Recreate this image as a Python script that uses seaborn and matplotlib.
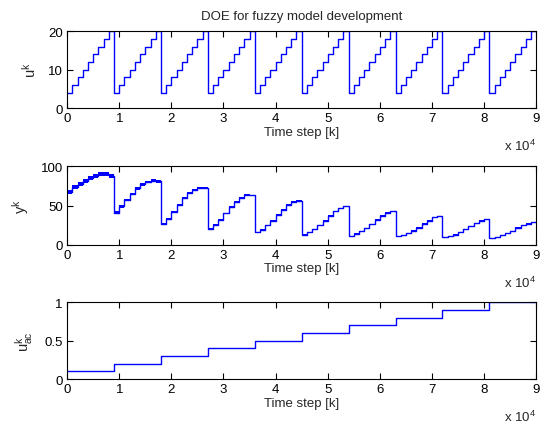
import numpy as np
import pandas as pd
import matplotlib
matplotlib.use("Agg")
import matplotlib.pyplot as plt
import seaborn as sns

# ---- data ----
seg_len = 1000                      # steps per input level
n_periods = 10
u_levels = [4, 6, 8, 10, 12, 14, 16, 18, 20]          # one DOE period
uac_levels = [0.1, 0.2, 0.3, 0.4, 0.5, 0.6, 0.7, 0.8, 0.9, 1.0]

# plant output, one value per 1000-step segment
y_p1 = [67, 74, 78, 82, 85, 88, 90, 90, 88]
y_p2 = [41, 49, 57, 65, 72, 77, 80, 82, 81]
y_p3 = [26, 33, 42, 51, 60, 66, 70, 73, 72]
y_p4 = [20, 25, 32, 40, 48, 55, 60, 64, 63]
y_p5 = [16, 19, 25, 31, 38, 45, 51, 55, 56]
y_p6 = [13, 16, 20, 25, 31, 37, 43, 47, 49]
y_p7 = [11, 14, 17, 21, 26, 32, 37, 41, 43]
y_p8 = [11, 12, 15, 18, 22, 27, 31, 35, 37]
y_p9 = [10, 11, 13, 16, 20, 24, 28, 31, 33]
y_p10 = [9, 10, 12, 15, 18, 22, 25, 27, 29]
# half thickness of the ripple band in each period
y_band = [2.5, 1.6, 1.2, 0.9, 0.7, 0.5, 0.4, 0.3, 0.3, 0.2]

xtick_labels = ['0', '1', '2', '3', '4', '5', '6', '7', '8', '9']

# ---- build step series ----
u_vals = u_levels * n_periods
y_vals = y_p1 + y_p2 + y_p3 + y_p4 + y_p5 + y_p6 + y_p7 + y_p8 + y_p9 + y_p10
band_vals = [b for b in y_band for _ in u_levels]
uac_vals = [v for v in uac_levels for _ in u_levels]

k = np.arange(len(u_vals) + 1) * seg_len
df = pd.DataFrame({
    'k': k,
    'u': u_vals + [u_vals[-1]],
    'y': y_vals + [y_vals[-1]],
    'band': band_vals + [band_vals[-1]],
    'uac': uac_vals + [uac_vals[-1]],
})

sns.set_style('ticks')
plt.rcParams['font.family'] = ['Liberation Sans', 'DejaVu Sans']
plt.rcParams['font.size'] = 9.5
plt.rcParams['mathtext.fontset'] = 'custom'
plt.rcParams['mathtext.rm'] = 'Liberation Sans'
plt.rcParams['mathtext.it'] = 'Liberation Sans'

fig = plt.figure(figsize=(5.5, 4.35), dpi=100)
left, width = 0.122, 0.853
ax1 = fig.add_axes([left, 0.749, width, 0.177])
ax2 = fig.add_axes([left, 0.435, width, 0.180])
ax3 = fig.add_axes([left, 0.126, width, 0.177])

blue = (0, 0, 1)
sns.lineplot(data=df, x='k', y='u', ax=ax1, color=blue, lw=1.0,
             drawstyle='steps-post', estimator=None)
ax2.fill_between(df['k'], df['y'] - df['band'], df['y'] + df['band'],
                 step='post', color=blue, lw=0)
sns.lineplot(data=df, x='k', y='y', ax=ax2, color=blue, lw=1.0,
             drawstyle='steps-post', estimator=None)
sns.lineplot(data=df, x='k', y='uac', ax=ax3, color=blue, lw=1.0,
             drawstyle='steps-post', estimator=None)

ylims = [(0, 20), (0, 100), (0, 1)]
yticks = [[0, 10, 20], [0, 50, 100], [0, 0.5, 1]]
ytlabels = [['0', '10', '20'], ['0', '50', '100'], ['0', '0.5', '1']]
ylabels = ['u$^k$', 'y$^k$', 'u$^k_{ac}$']

for ax, yl, yt, ytl, lab in zip([ax1, ax2, ax3], ylims, yticks, ytlabels, ylabels):
    ax.set_xlim(0, 90000)
    ax.set_ylim(*yl)
    ax.set_xticks(np.arange(0, 90001, 10000))
    ax.set_xticklabels(xtick_labels)
    ax.set_yticks(yt)
    ax.set_yticklabels(ytl)
    ax.tick_params(direction='in', top=True, right=True, length=4,
                   width=0.8, colors='black', labelsize=9.5, pad=3)
    for s in ax.spines.values():
        s.set_linewidth(0.8)
        s.set_color('black')
    ax.set_xlabel('Time step [k]', fontsize=9.5, labelpad=1)
    ax.set_ylabel(lab, fontsize=10.5, labelpad=7)
    ax.text(1.0, -0.48, r'x 10$^4$', transform=ax.transAxes,
            ha='right', va='center', fontsize=9.5)

ax1.set_title('DOE for fuzzy model development', fontsize=9.5, pad=9)

fig.savefig('out.png', dpi=100)
